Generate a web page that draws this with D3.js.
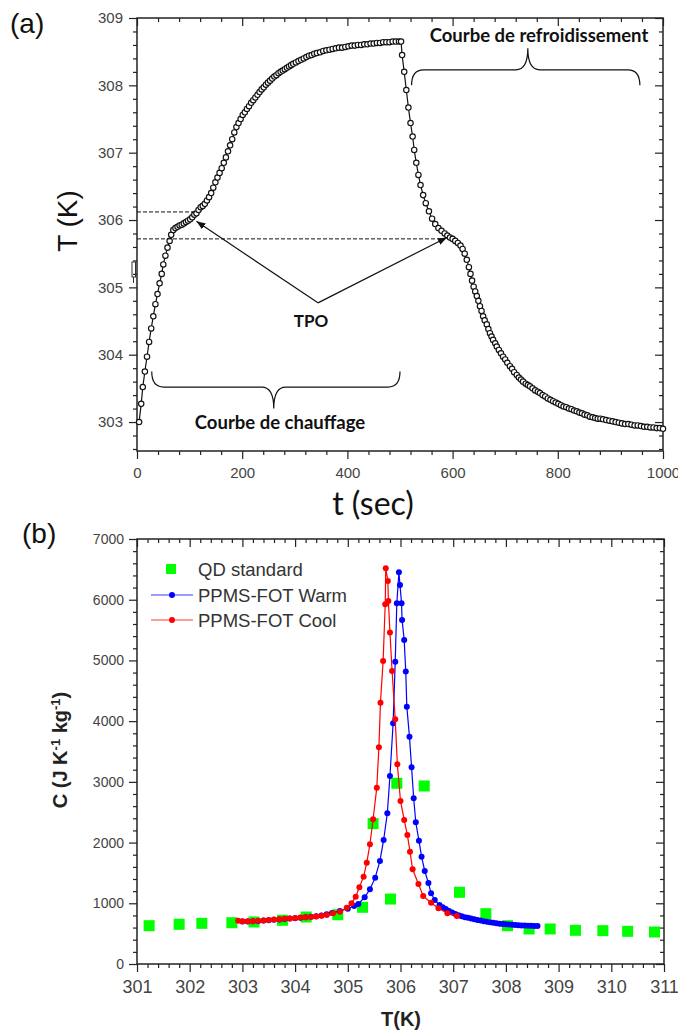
<!DOCTYPE html>
<html><head><meta charset="utf-8">
<script src="https://cdn.jsdelivr.net/npm/d3@7"></script>
<style>
html,body{margin:0;padding:0;background:#fff;}
svg{display:block;}
.tick text{fill:#444;font-family:"Liberation Sans",Arial,sans-serif;}
</style></head>
<body>
<svg id="chart" width="678" height="1033"></svg>
<script>
// ---------- Panel (a) data: t (sec), T (K) ----------
const heatTime = [4,8,11,15,19,23,27,31,35,39,43,47,50,54,58,62,65,69,73,77,81,85,89,93,97,101,105,109,113,117,121,125,129,133,137,141,145,149,153,157,161,165,169,173,177,181,185,189,193,197,201,205,209,213,217,221,225,229,233,237,241,245,249,253,257,261,265,269,273,277,281,285,289,293,297,302,307,312,317,322,327,332,337,342,348,354,360,366,372,378,384,390,396,402,408,414,420,426,432,438,444,450,456,462,468,474,480,486,492,498,502];
const heatTemp = [303.0,303.27,303.52,303.75,303.97,304.19,304.39,304.57,304.75,304.9,305.06,305.2,305.34,305.47,305.59,305.69,305.78,305.85,305.88,305.9,305.92,305.93,305.95,305.97,305.99,306.01,306.04,306.08,306.1,306.15,306.19,306.21,306.24,306.29,306.34,306.4,306.48,306.56,306.63,306.7,306.77,306.85,306.93,307.02,307.11,307.2,307.3,307.38,307.44,307.5,307.56,307.6,307.65,307.69,307.74,307.78,307.82,307.86,307.9,307.94,307.97,308.01,308.04,308.07,308.1,308.13,308.15,308.18,308.2,308.22,308.24,308.26,308.28,308.3,308.32,308.34,308.36,308.38,308.4,308.42,308.44,308.45,308.47,308.48,308.49,308.51,308.52,308.53,308.54,308.55,308.56,308.56,308.57,308.58,308.59,308.59,308.6,308.6,308.61,308.61,308.62,308.62,308.63,308.63,308.64,308.64,308.64,308.65,308.65,308.65,308.65];
const coolTime = [504,508,512,516,520,524,527,531,535,539,544,549,555,561,567,573,579,585,590,595,600,605,610,615,619,623,627,631,634,637,640,643,646,649,652,655,658,661,665,668,671,674,677,681,684,688,692,696,700,704,709,713,717,722,726,730,734,739,743,747,752,757,762,766,771,776,781,786,791,796,801,806,811,816,821,826,831,836,841,846,851,856,861,866,871,876,881,886,892,898,904,910,916,922,928,934,940,946,952,958,964,970,976,982,988,994,1000];
const coolTemp = [308.45,308.2,307.93,307.67,307.44,307.24,307.04,306.85,306.67,306.52,306.37,306.25,306.13,306.02,305.94,305.88,305.84,305.8,305.77,305.74,305.72,305.69,305.66,305.62,305.57,305.5,305.41,305.3,305.2,305.1,305.01,304.94,304.87,304.8,304.72,304.65,304.57,304.51,304.45,304.38,304.32,304.27,304.22,304.17,304.12,304.07,304.02,303.97,303.93,303.88,303.83,303.79,303.74,303.7,303.66,303.63,303.6,303.57,303.55,303.53,303.5,303.47,303.45,303.43,303.4,303.38,303.35,303.33,303.31,303.29,303.27,303.25,303.23,303.22,303.2,303.19,303.17,303.16,303.14,303.13,303.11,303.1,303.08,303.07,303.06,303.05,303.05,303.04,303.03,303.02,303.01,303.0,302.99,302.98,302.97,302.97,302.96,302.95,302.95,302.94,302.93,302.93,302.92,302.92,302.91,302.91,302.9];
const aXTicks = [0,200,400,600,800,1000];
const aYTicks = [303,304,305,306,307,308,309];
// TPO levels (K) and annotation points [t, T]
const tpoLevels = [306.12, 305.72];
const tpoDashEnd = [114, 586];
const tpoVertex = [344, 304.77];
const tpoTargets = [[113, 305.98],[589, 305.74]];

// ---------- Panel (b) data: T (K), C (J/K/kg) ----------
const qdT = [301.23,301.8,302.23,302.8,303.22,303.76,304.21,304.81,305.28,305.48,305.81,305.93,306.45,307.12,307.62,308.03,308.44,308.84,309.32,309.84,310.31,310.82];
const qdC = [631,654,670,680,692,720,774,812,934,2312,1070,2976,2932,1181,829,631,577,577,555,549,538,527];
const warmT = [303.0,303.1,303.2,303.3,303.4,303.5,303.6,303.7,303.8,303.9,304.0,304.1,304.2,304.3,304.4,304.5,304.6,304.7,304.85,305.0,305.12,305.2,305.32,305.42,305.52,305.61,305.68,305.75,305.8,305.86,305.9,305.93,305.97,305.99,306.02,306.03,306.07,306.1,306.12,306.17,306.21,306.25,306.29,306.35,306.4,306.46,306.53,306.58,306.65,306.74,306.8,306.86,306.92,306.98,307.04,307.1,307.16,307.22,307.28,307.34,307.4,307.46,307.52,307.58,307.64,307.7,307.76,307.82,307.88,307.94,308.0,308.06,308.12,308.18,308.24,308.3,308.36,308.42,308.48,308.54,308.6];
const warmC = [702,702,705,709,715,721,727,734,741,748,755,762,770,778,788,800,818,842,875,912,955,988,1099,1231,1422,1697,2043,2483,3097,3965,4980,5942,6453,6244,5942,5667,5337,4816,4239,3745,3240,2730,2334,2031,1768,1532,1335,1165,1054,970,935,905,875,850,825,805,788,772,760,748,737,726,715,705,697,688,680,672,665,660,655,651,647,643,640,636,633,630,628,627,626];
const coolT = [302.92,303.0,303.1,303.2,303.3,303.4,303.5,303.6,303.7,303.8,303.9,304.0,304.1,304.2,304.3,304.4,304.5,304.6,304.72,304.85,304.98,305.07,305.15,305.22,305.3,305.36,305.42,305.48,305.55,305.59,305.62,305.67,305.71,305.72,305.76,305.77,305.8,305.84,305.9,305.94,306.0,306.07,306.13,306.18,306.23,306.34,306.43,306.58,306.72,306.89,307.07];
const coolC = [713,705,703,706,712,718,724,731,738,744,750,757,764,770,776,784,794,807,835,862,928,1000,1109,1264,1438,1669,1972,2384,2904,3570,4305,4992,5926,6519,6310,5980,5458,4827,4031,3290,2685,2372,2125,1850,1560,1318,1120,1010,917,835,791];
const bXTicks = [301,302,303,304,305,306,307,308,309,310,311];
const bYTicks = [0,1000,2000,3000,4000,5000,6000,7000];
const legendLabels = ["QD standard","PPMS-FOT Warm","PPMS-FOT Cool"];

const svg = d3.select("#chart");
const FONT = '"Liberation Sans",Arial,sans-serif';
const CAL = 'Lato,"Open Sans",sans-serif';

function frameAxes(g, x, y, xMaj, xMin, yMaj, yMin, xFmt, yFmt, xFont, yFont, xPad, yPad){
  const [X0,X1] = x.range(), [Y1,Y0] = y.range();
  const fix = s => s.call(a=>a.select(".domain").remove()).selectAll("line").attr("stroke","#222").attr("stroke-width",1.2);
  const bottom = g.append("g").attr("transform",`translate(0,${Y1})`).call(d3.axisBottom(x).tickValues(xMaj).tickSize(8).tickPadding(xPad).tickFormat(xFmt));
  fix(bottom);
  fix(g.append("g").attr("transform",`translate(0,${Y1})`).call(d3.axisBottom(x).tickValues(xMin).tickSize(4).tickFormat("")));
  fix(g.append("g").attr("transform",`translate(0,${Y0})`).call(d3.axisBottom(x).tickValues(xMaj).tickSize(8).tickFormat("")));
  fix(g.append("g").attr("transform",`translate(0,${Y0})`).call(d3.axisBottom(x).tickValues(xMin).tickSize(4).tickFormat("")));
  const left = g.append("g").attr("transform",`translate(${X0},0)`).call(d3.axisLeft(y).tickValues(yMaj).tickSize(8).tickPadding(yPad).tickFormat(yFmt));
  fix(left);
  fix(g.append("g").attr("transform",`translate(${X0},0)`).call(d3.axisLeft(y).tickValues(yMin).tickSize(4).tickFormat("")));
  fix(g.append("g").attr("transform",`translate(${X1},0)`).call(d3.axisLeft(y).tickValues(yMaj).tickSize(8).tickFormat("")));
  fix(g.append("g").attr("transform",`translate(${X1},0)`).call(d3.axisLeft(y).tickValues(yMin).tickSize(4).tickFormat("")));
  bottom.selectAll(".tick text").attr("font-family",FONT).attr("fill","#444").attr("font-size",xFont);
  left.selectAll(".tick text").attr("font-family",FONT).attr("fill","#444").attr("font-size",yFont);
  g.append("rect").attr("x",X0).attr("y",Y0).attr("width",X1-X0).attr("height",Y1-Y0)
    .attr("fill","none").attr("stroke","#222").attr("stroke-width",1.5);
}

// ================= Panel (a) =================
const ax = d3.scaleLinear().domain([0,1000]).range([137,663]);
const ay = d3.scaleLinear().domain([302.57,309]).range([451,18]);
const ga = svg.append("g");
{
  const xMin = d3.range(0,1001,40).filter(v=>v%200!==0);
  const yMin = d3.range(302.6,309.001,0.2).map(v=>+v.toFixed(1)).filter(v=>Math.abs(v-Math.round(v))>1e-6);
  frameAxes(ga, ax, ay, aXTicks, xMin, aYTicks, yMin, d3.format("d"), d3.format("d"), 15, 15, 8, 6);
}
// small artifact near the left axis
ga.append("rect").attr("x",132).attr("y",262).attr("width",3.5).attr("height",15).attr("fill","none").attr("stroke","#333").attr("stroke-width",1);
ga.append("line").attr("x1",133.5).attr("x2",133.5).attr("y1",277).attr("y2",283).attr("stroke","#333").attr("stroke-width",1);

const heat = heatTime.map((t,i)=>[t,heatTemp[i]]);
const cool = coolTime.map((t,i)=>[t,coolTemp[i]]);
const allA = heat.concat(cool);
const lineA = d3.line().x(d=>ax(d[0])).y(d=>ay(d[1]));
ga.append("path").datum(allA).attr("d",lineA).attr("fill","none").attr("stroke","#111").attr("stroke-width",1.2);
ga.selectAll("circle.a").data(allA).enter().append("circle").attr("class","a")
  .attr("cx",d=>ax(d[0])).attr("cy",d=>ay(d[1])).attr("r",2.7)
  .attr("fill","#fff").attr("stroke","#111").attr("stroke-width",1.15);

// dashed TPO lines
tpoLevels.forEach((lv,i)=>{
  ga.append("line").attr("x1",ax(0)).attr("x2",ax(tpoDashEnd[i])).attr("y1",ay(lv)).attr("y2",ay(lv))
    .attr("stroke","#111").attr("stroke-width",1).attr("stroke-dasharray","4,2");
});
// arrows
svg.append("defs").append("marker").attr("id","arr").attr("viewBox","0 0 10 10").attr("refX",10).attr("refY",5)
  .attr("markerWidth",9).attr("markerHeight",9).attr("markerUnits","userSpaceOnUse").attr("orient","auto")
  .append("path").attr("d","M0,1 L10,5 L0,9 Z").attr("fill","#111");
tpoTargets.forEach(p=>{
  ga.append("line").attr("x1",ax(tpoVertex[0])).attr("y1",ay(tpoVertex[1])).attr("x2",ax(p[0])).attr("y2",ay(p[1]))
    .attr("stroke","#111").attr("stroke-width",1.2).attr("marker-end","url(#arr)");
});
ga.append("text").attr("x",ax(tpoVertex[0])-7).attr("y",327).attr("text-anchor","middle")
  .attr("font-family",CAL).attr("font-weight","bold").attr("font-size",17).attr("fill","#111").text("TPO");

// braces
function brace(xa, xb, xm, yEnd, yLine, yTip){
  const h = 12;
  return `M${xa},${yEnd} Q${xa},${yLine} ${xa+h},${yLine} L${xm-h},${yLine} Q${xm},${yLine} ${xm},${yTip}`+
         ` Q${xm},${yLine} ${xm+h},${yLine} L${xb-h},${yLine} Q${xb},${yLine} ${xb},${yEnd}`;
}
ga.append("path").attr("d",brace(ax(28),ax(500),ax(260),ay(303.75),ay(303.52),ay(303.2)))
  .attr("fill","none").attr("stroke","#111").attr("stroke-width",1.2);
ga.append("path").attr("d",brace(ax(522),ax(956),ax(743),ay(308.0),ay(308.23),ay(308.55)))
  .attr("fill","none").attr("stroke","#111").attr("stroke-width",1.2);
ga.append("text").attr("x",280).attr("y",429).attr("text-anchor","middle")
  .attr("font-family",CAL).attr("font-weight","bold").attr("font-size",18.5).attr("fill","#111").text("Courbe de chauffage");
ga.append("text").attr("x",539).attr("y",42).attr("text-anchor","middle")
  .attr("font-family",CAL).attr("font-weight","bold").attr("font-size",18.5).attr("fill","#111").text("Courbe de refroidissement");

// axis titles (a)
svg.append("text").attr("x",373).attr("y",515).attr("text-anchor","middle").attr("font-family",CAL)
  .attr("font-size",32).attr("fill","#111").text("t (sec)");
svg.append("text").attr("transform","translate(77,221) rotate(-90)").attr("text-anchor","middle").attr("font-family",FONT)
  .attr("font-size",28).attr("fill","#111").text("T (K)");
svg.append("text").attr("x",10).attr("y",33).attr("font-family",FONT).attr("font-size",28).attr("fill","#111").text("(a)");

// ================= Panel (b) =================
const bx = d3.scaleLinear().domain([301,311]).range([137,664]);
const by = d3.scaleLinear().domain([0,7000]).range([964,539]);
const gb = svg.append("g");
{
  const xMin = d3.range(301,311.001,0.2).map(v=>+v.toFixed(1)).filter(v=>Math.abs(v-Math.round(v))>1e-6);
  const yMin = d3.range(0,7001,200).filter(v=>v%1000!==0);
  frameAxes(gb, bx, by, bXTicks, xMin, bYTicks, yMin, d3.format("d"), d3.format("d"), 18, 14, 8, 5);
}

const lineB = d3.line().x(d=>bx(d[0])).y(d=>by(d[1]));
// QD squares
const qd = qdT.map((t,i)=>[t,qdC[i]]);
gb.selectAll("rect.qd").data(qd).enter().append("rect").attr("class","qd")
  .attr("x",d=>bx(d[0])-5.5).attr("y",d=>by(d[1])-5.5).attr("width",11).attr("height",11).attr("fill","#00ff00");
// warm
const warm = warmT.map((t,i)=>[t,warmC[i]]);
gb.append("path").datum(warm).attr("d",lineB).attr("fill","none").attr("stroke","#0000ff").attr("stroke-width",1.2);
gb.selectAll("circle.w").data(warm).enter().append("circle").attr("class","w")
  .attr("cx",d=>bx(d[0])).attr("cy",d=>by(d[1])).attr("r",3).attr("fill","#0000ff");
// cool
const coolB = coolT.map((t,i)=>[t,coolC[i]]);
gb.append("path").datum(coolB).attr("d",lineB).attr("fill","none").attr("stroke","#ff0000").attr("stroke-width",1.2);
gb.selectAll("circle.c").data(coolB).enter().append("circle").attr("class","c")
  .attr("cx",d=>bx(d[0])).attr("cy",d=>by(d[1])).attr("r",3).attr("fill","#ff0000");

// legend
const legY = [569,595,620];
gb.append("rect").attr("x",166).attr("y",legY[0]-5).attr("width",10).attr("height",10).attr("fill","#00ff00");
[["#3a3aff","#0000ff"],["#ff3a3a","#ff0000"]].forEach((c,i)=>{
  const yy = legY[i+1];
  gb.append("line").attr("x1",151).attr("x2",193).attr("y1",yy).attr("y2",yy).attr("stroke",c[0]).attr("stroke-width",1.2);
  gb.append("circle").attr("cx",172).attr("cy",yy).attr("r",3).attr("fill",c[1]);
});
legendLabels.forEach((l,i)=>{
  gb.append("text").attr("x",198).attr("y",legY[i]+6.5).attr("font-family",FONT).attr("font-size",18.5)
    .attr("fill","#333").text(l);
});

// axis titles (b)
svg.append("text").attr("x",401).attr("y",1026).attr("text-anchor","middle").attr("font-family",FONT)
  .attr("font-weight","bold").attr("font-size",20).attr("fill","#222").text("T(K)");
const yl = svg.append("text").attr("transform","translate(67,750) rotate(-90)").attr("text-anchor","middle")
  .attr("font-family",FONT).attr("font-weight","bold").attr("font-size",20).attr("fill","#222");
yl.append("tspan").text("C (J K");
yl.append("tspan").attr("dy",-7).attr("font-size",13).text("-1");
yl.append("tspan").attr("dy",7).text(" kg");
yl.append("tspan").attr("dy",-7).attr("font-size",13).text("-1");
yl.append("tspan").attr("dy",7).text(")");
svg.append("text").attr("x",22).attr("y",543).attr("font-family",FONT).attr("font-size",28).attr("fill","#111").text("(b)");
</script>
</body></html>
